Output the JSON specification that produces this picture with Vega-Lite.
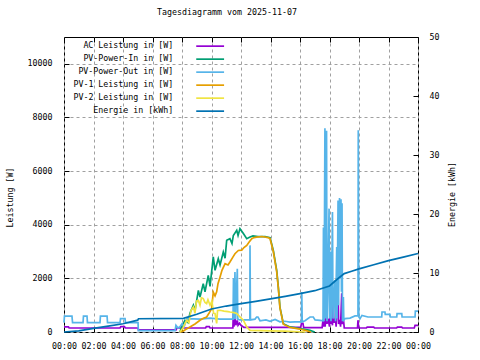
{
  "$schema": "https://vega.github.io/schema/vega-lite/v6.json",
  "width": 354,
  "height": 295,
  "autosize": {"type": "none"},
  "padding": {"left": 64, "top": 37, "right": 62, "bottom": 28},
  "background": "white",
  "title": {"text": "Tagesdiagramm vom 2025-11-07", "font": "DejaVu Sans Mono", "fontSize": 8.3, "fontWeight": "normal", "color": "black", "anchor": "middle", "offset": 16, "dx": -14},
  "config": {
    "font": "DejaVu Sans Mono",
    "view": {"stroke": "black", "strokeWidth": 1},
    "axis": {
      "labelFont": "DejaVu Sans Mono", "labelFontSize": 8.3, "labelColor": "black",
      "titleFont": "DejaVu Sans Mono", "titleFontSize": 8.3, "titleFontWeight": "normal", "titleColor": "black",
      "domain": false, "tickColor": "black", "tickSize": -5, "tickWidth": 1,
      "gridColor": "#a0a0a0", "gridDash": [3, 3], "gridOpacity": 1, "gridWidth": 1
    },
    "legend": {
      "orient": "none", "legendX": 142, "legendY": 5,
      "symbolType": "M-5,0H5", "symbolSize": 31, "symbolStrokeWidth": 1.5,
      "labelFont": "DejaVu Sans Mono", "labelFontSize": 8.3, "labelColor": "black",
      "labelAlign": "right", "labelOffset": -41, "rowPadding": 4, "labelLimit": 300
    },
    "line": {"strokeWidth": 1.7}
  },
  "datasets": {
    "ac": [
      {"h":0,"v":190},{"h":0.3,"v":190},{"h":0.35,"v":150},{"h":3.8,"v":150},{"h":3.85,"v":200},{"h":4.1,"v":200},{"h":4.15,"v":150},{"h":5.02,"v":150},{"h":5.05,"v":80},{"h":7.6,"v":80},{"h":7.65,"v":150},{"h":9.6,"v":150},{"h":9.65,"v":200},{"h":9.85,"v":200},{"h":9.9,"v":150},{"h":11.45,"v":150},{"h":11.48,"v":690},{"h":11.52,"v":200},{"h":11.6,"v":550},{"h":11.65,"v":250},{"h":11.75,"v":430},{"h":11.8,"v":250},{"h":11.9,"v":330},{"h":12.0,"v":250},{"h":12.2,"v":170},{"h":16.05,"v":170},{"h":16.1,"v":320},{"h":16.2,"v":320},{"h":16.25,"v":160},{"h":17.5,"v":160},{"h":17.56,"v":450},{"h":17.6,"v":200},{"h":17.65,"v":500},{"h":17.7,"v":200},{"h":17.75,"v":450},{"h":17.8,"v":2420},{"h":17.83,"v":300},{"h":17.9,"v":500},{"h":18.0,"v":200},{"h":18.05,"v":930},{"h":18.1,"v":300},{"h":18.15,"v":500},{"h":18.2,"v":250},{"h":18.26,"v":1120},{"h":18.3,"v":350},{"h":18.4,"v":500},{"h":18.45,"v":200},{"h":18.58,"v":1550},{"h":18.62,"v":300},{"h":18.7,"v":450},{"h":18.75,"v":200},{"h":18.83,"v":1440},{"h":18.87,"v":300},{"h":18.95,"v":450},{"h":19.0,"v":150},{"h":19.9,"v":150},{"h":19.93,"v":440},{"h":19.98,"v":150},{"h":20.5,"v":150},{"h":20.55,"v":180},{"h":21.0,"v":180},{"h":21.05,"v":150},{"h":22.55,"v":150},{"h":22.6,"v":180},{"h":22.9,"v":180},{"h":22.95,"v":150},{"h":23.75,"v":150},{"h":23.8,"v":250},{"h":24,"v":250}
    ],
    "pvin": [
      {"h":7.86,"v":0},{"h":7.98,"v":190},{"h":8.2,"v":440},{"h":8.41,"v":350},{"h":8.54,"v":700},{"h":8.77,"v":1000},{"h":8.88,"v":800},{"h":9.11,"v":1550},{"h":9.22,"v":1300},{"h":9.44,"v":1800},{"h":9.56,"v":1500},{"h":9.78,"v":2110},{"h":9.9,"v":1700},{"h":10.12,"v":2800},{"h":10.24,"v":2300},{"h":10.46,"v":2735},{"h":10.58,"v":2500},{"h":10.8,"v":2980},{"h":10.92,"v":2750},{"h":11.03,"v":3420},{"h":11.25,"v":3480},{"h":11.39,"v":3300},{"h":11.48,"v":3600},{"h":11.71,"v":3790},{"h":11.8,"v":3600},{"h":11.93,"v":3850},{"h":12.16,"v":3670},{"h":12.39,"v":3480},{"h":12.61,"v":3540},{"h":12.81,"v":3580},{"h":13.15,"v":3560},{"h":13.63,"v":3560},{"h":13.97,"v":3520},{"h":14.19,"v":3040},{"h":14.42,"v":2300},{"h":14.53,"v":1680},{"h":14.64,"v":930},{"h":14.87,"v":310},{"h":15.32,"v":190},{"h":16.0,"v":125},{"h":16.68,"v":60},{"h":17.0,"v":0}
    ],
    "pvout": [
      {"h":0,"v":350},{"h":0.03,"v":590},{"h":0.54,"v":590},{"h":0.58,"v":350},{"h":1.29,"v":350},{"h":1.32,"v":590},{"h":1.56,"v":590},{"h":1.59,"v":350},{"h":2.44,"v":350},{"h":2.47,"v":590},{"h":2.92,"v":590},{"h":2.95,"v":350},{"h":3.8,"v":350},{"h":3.83,"v":500},{"h":4.14,"v":500},{"h":4.17,"v":350},{"h":5.02,"v":350},{"h":5.04,"v":50},{"h":7.53,"v":50},{"h":7.59,"v":250},{"h":7.73,"v":150},{"h":7.86,"v":200},{"h":8.0,"v":310},{"h":8.14,"v":200},{"h":8.34,"v":500},{"h":9.22,"v":480},{"h":9.9,"v":520},{"h":10.58,"v":480},{"h":11.46,"v":480},{"h":11.49,"v":2000},{"h":11.53,"v":480},{"h":11.59,"v":2240},{"h":11.63,"v":480},{"h":11.75,"v":2360},{"h":11.78,"v":480},{"h":11.93,"v":450},{"h":12.6,"v":450},{"h":12.61,"v":3230},{"h":12.64,"v":450},{"h":12.95,"v":480},{"h":13.06,"v":560},{"h":13.15,"v":560},{"h":13.29,"v":420},{"h":13.69,"v":450},{"h":13.97,"v":400},{"h":14.31,"v":470},{"h":14.64,"v":380},{"h":14.98,"v":400},{"h":15.32,"v":370},{"h":15.66,"v":380},{"h":16.1,"v":380},{"h":16.12,"v":1490},{"h":16.15,"v":380},{"h":16.34,"v":420},{"h":16.68,"v":560},{"h":16.9,"v":560},{"h":17.02,"v":450},{"h":17.36,"v":430},{"h":17.56,"v":420},{"h":17.59,"v":3900},{"h":17.63,"v":400},{"h":17.69,"v":7600},{"h":17.73,"v":500},{"h":17.8,"v":7500},{"h":17.83,"v":400},{"h":17.9,"v":2000},{"h":17.97,"v":4600},{"h":18.0,"v":500},{"h":18.07,"v":3000},{"h":18.1,"v":400},{"h":18.17,"v":2800},{"h":18.2,"v":4470},{"h":18.24,"v":500},{"h":18.37,"v":1930},{"h":18.41,"v":400},{"h":18.49,"v":3170},{"h":18.51,"v":500},{"h":18.58,"v":4900},{"h":18.61,"v":1000},{"h":18.68,"v":5000},{"h":18.71,"v":2000},{"h":18.78,"v":4950},{"h":18.81,"v":1500},{"h":18.85,"v":4800},{"h":18.88,"v":400},{"h":18.94,"v":1300},{"h":18.97,"v":450},{"h":19.05,"v":500},{"h":19.39,"v":520},{"h":19.73,"v":600},{"h":19.93,"v":600},{"h":19.95,"v":7520},{"h":19.99,"v":560},{"h":20.07,"v":500},{"h":20.2,"v":620},{"h":20.61,"v":560},{"h":21.54,"v":560},{"h":21.56,"v":745},{"h":21.76,"v":745},{"h":21.78,"v":660},{"h":22.1,"v":660},{"h":22.12,"v":560},{"h":22.56,"v":560},{"h":22.58,"v":685},{"h":22.9,"v":685},{"h":22.92,"v":560},{"h":23.8,"v":560},{"h":23.82,"v":780},{"h":24,"v":780}
    ],
    "pv1": [
      {"h":7.86,"v":0},{"h":8.07,"v":30},{"h":8.27,"v":100},{"h":8.54,"v":190},{"h":8.88,"v":300},{"h":9.22,"v":440},{"h":9.42,"v":500},{"h":9.67,"v":560},{"h":9.83,"v":700},{"h":10.01,"v":870},{"h":10.12,"v":1490},{"h":10.24,"v":1350},{"h":10.35,"v":1500},{"h":10.44,"v":1800},{"h":10.58,"v":2050},{"h":10.71,"v":2300},{"h":10.92,"v":2550},{"h":11.12,"v":2500},{"h":11.25,"v":2610},{"h":11.46,"v":2800},{"h":11.59,"v":2920},{"h":11.82,"v":3040},{"h":12.05,"v":3050},{"h":12.2,"v":3150},{"h":12.39,"v":3230},{"h":12.54,"v":3350},{"h":12.73,"v":3480},{"h":12.88,"v":3520},{"h":13.06,"v":3540},{"h":13.42,"v":3560},{"h":13.83,"v":3520},{"h":13.97,"v":3480},{"h":14.19,"v":3000},{"h":14.42,"v":2250},{"h":14.53,"v":1650},{"h":14.64,"v":900},{"h":14.87,"v":290},{"h":15.32,"v":170},{"h":16.0,"v":110},{"h":16.47,"v":40},{"h":16.75,"v":0}
    ],
    "pv2": [
      {"h":7.86,"v":0},{"h":8.07,"v":150},{"h":8.32,"v":440},{"h":8.47,"v":350},{"h":8.61,"v":800},{"h":8.77,"v":930},{"h":8.88,"v":700},{"h":8.98,"v":1150},{"h":9.11,"v":1180},{"h":9.22,"v":1000},{"h":9.32,"v":1280},{"h":9.44,"v":1245},{"h":9.56,"v":1100},{"h":9.67,"v":1060},{"h":9.76,"v":1200},{"h":9.9,"v":1000},{"h":10.03,"v":1150},{"h":10.14,"v":700},{"h":10.24,"v":690},{"h":10.35,"v":320},{"h":10.41,"v":800},{"h":10.58,"v":810},{"h":10.85,"v":780},{"h":11.12,"v":760},{"h":11.25,"v":745},{"h":11.53,"v":720},{"h":11.71,"v":690},{"h":11.93,"v":560},{"h":12.16,"v":440},{"h":12.39,"v":190},{"h":12.61,"v":60},{"h":13.29,"v":50},{"h":13.97,"v":40},{"h":14.98,"v":30},{"h":16.0,"v":10},{"h":16.34,"v":0}
    ],
    "energie": [
      {"h":0,"v":0},{"h":1,"v":0.2},{"h":2,"v":0.6},{"h":3,"v":1.0},{"h":4,"v":1.4},{"h":5,"v":2.0},{"h":5.05,"v":2.25},{"h":8.1,"v":2.3},{"h":9,"v":3.0},{"h":10,"v":3.9},{"h":11,"v":4.4},{"h":12,"v":4.8},{"h":13,"v":5.2},{"h":14,"v":5.6},{"h":15,"v":6.05},{"h":16,"v":6.5},{"h":17,"v":7.0},{"h":18,"v":7.8},{"h":18.5,"v":8.9},{"h":19,"v":9.9},{"h":19.5,"v":10.3},{"h":20,"v":10.7},{"h":21,"v":11.4},{"h":22,"v":12.1},{"h":23,"v":12.7},{"h":24,"v":13.3}
    ]
  },
  "layer": [
    {
      "encoding": {
        "x": {"field": "h", "type": "quantitative", "scale": {"domain": [0, 24]},
          "axis": {"values": [0,2,4,6,8,10,12,14,16,18,20,22,24], "labelExpr": "(datum.value < 24 ? (datum.value < 10 ? '0' : '') + datum.value : '00') + ':00'", "title": null, "grid": true, "labelPadding": 14, "labelFlush": false}},
        "y": {"field": "v", "type": "quantitative", "scale": {"domain": [0, 11000]},
          "axis": {"values": [0,2000,4000,6000,8000,10000], "format": "d", "title": "Leistung [W]", "grid": true, "labelPadding": 17, "titleX": -54, "titleY": 160, "titleAngle": -90, "titleAlign": "center", "titleBaseline": "middle"}}
      },
      "layer": [
        {"data": {"values": [{}]}, "mark": {"type": "rect", "fill": "white"},
         "encoding": {"x": {"datum": 0.05}, "x2": {"datum": 11.1}, "y": {"datum": 8080}, "y2": {"datum": 10970}}},
        {"data": {"name": "ac"}, "mark": {"type": "line"},
         "encoding": {"color": {"datum": "AC Leistung in [W]", "type": "nominal",
           "scale": {"domain": ["AC Leistung in [W]", "PV-Power-In in [W]", "PV-Power-Out in [W]", "PV-1 Leistung in [W]", "PV-2 Leistung in [W]", "Energie in [kWh]"],
                     "range": ["#9400d3", "#009e73", "#56b4e9", "#e69f00", "#f0e442", "#0072b2"]},
           "legend": {"title": null}}}},
        {"data": {"name": "pvin"}, "mark": {"type": "line"}, "encoding": {"color": {"datum": "PV-Power-In in [W]", "type": "nominal"}}},
        {"data": {"name": "pvout"}, "mark": {"type": "line"}, "encoding": {"color": {"datum": "PV-Power-Out in [W]", "type": "nominal"}}},
        {"data": {"name": "pv1"}, "mark": {"type": "line"}, "encoding": {"color": {"datum": "PV-1 Leistung in [W]", "type": "nominal"}}},
        {"data": {"name": "pv2"}, "mark": {"type": "line"}, "encoding": {"color": {"datum": "PV-2 Leistung in [W]", "type": "nominal"}}}
      ]
    },
    {
      "data": {"name": "energie"},
      "mark": {"type": "line"},
      "encoding": {
        "x": {"field": "h", "type": "quantitative", "scale": {"domain": [0, 24]},
          "axis": {"orient": "top", "values": [0,2,4,6,8,10,12,14,16,18,20,22,24], "labels": false, "title": null, "grid": false}},
        "y": {"field": "v", "type": "quantitative", "scale": {"domain": [0, 50]},
          "axis": {"orient": "right", "values": [0,10,20,30,40,50], "title": "Energie [kWh]", "grid": false, "labelPadding": 16, "titleX": 34.5, "titleY": 157, "titleAngle": -90, "titleAlign": "center", "titleBaseline": "middle"}},
        "color": {"datum": "Energie in [kWh]", "type": "nominal"}
      }
    }
  ],
  "resolve": {"scale": {"y": "independent"}, "axis": {"x": "independent"}}
}
